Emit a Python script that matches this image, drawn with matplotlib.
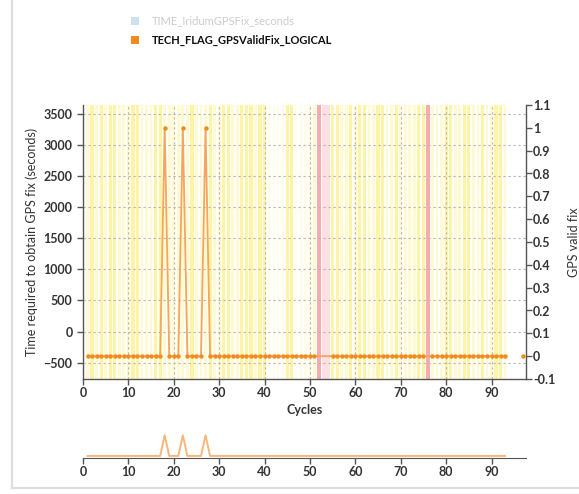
import numpy as np
import matplotlib
matplotlib.use("Agg")
import matplotlib.pyplot as plt
from matplotlib.lines import Line2D
from matplotlib.patches import Rectangle

# ---------------- data ----------------
cycles = list(range(1, 52)) + list(range(55, 76)) + list(range(77, 98))
flag_ones = [18, 22, 27]
flag_gaps = [94, 95, 96]
flags = [np.nan if c in flag_gaps else (1 if c in flag_ones else 0) for c in cycles]

missing_cycles_dark = [52, 76]
missing_cycles_light = [53, 54]
strong_yellow = [2, 4, 6, 7, 11, 12, 16, 17, 24, 28, 31, 32, 35, 36, 37, 39, 40, 45, 46,
                 55, 56, 59, 61, 62, 65, 66, 69, 74, 75, 80, 81, 84, 85, 88, 91, 92]
faint_cycles = [41, 42, 43, 44, 47, 48, 49]
pale_yellow = [c for c in range(1, 94) if c not in strong_yellow and c not in faint_cycles
               and c not in missing_cycles_dark + missing_cycles_light]

x_ticks = list(range(0, 100, 10))
left_ticks = list(range(-500, 4000, 500))
right_ticks = [round(-0.1 + 0.1 * i, 1) for i in range(13)]
right_tick_labels = ["-0.1", "0", "0.1", "0.2", "0.3", "0.4", "0.5", "0.6", "0.7", "0.8", "0.9", "1", "1.1"]

legend_labels = ["TIME_IridumGPSFix_seconds", "TECH_FLAG_GPSValidFix_LOGICAL"]

# ---------------- style ----------------
W, H = 579, 494
plt.rcParams['font.family'] = ['Lato', 'DejaVu Sans']
fig = plt.figure(figsize=(W / 100, H / 100), dpi=100)

def ax_rect(l, t, r, b):
    return [l / W, 1 - b / H, (r - l) / W, (b - t) / H]

orange = '#f28a1e'
line_orange = '#f6a55c'
txt = '#333333'
fs = 9

ax = fig.add_axes(ax_rect(83, 105, 526, 379))
ax2 = ax.twinx()

xmin, xmax = 0, 97.6
ax.set_xlim(xmin, xmax)
ax.set_ylim(-763, 3645)
ax2.set_ylim(-0.1, 1.1)

# bands (thin stripes per cycle)
for c in faint_cycles:
    ax.axvspan(c - 0.25, c + 0.25, color='#fffcea', lw=0, zorder=0)
for c in pale_yellow:
    ax.axvspan(c - 0.3, c + 0.3, color='#fffad2', lw=0, zorder=0)
for c in strong_yellow:
    ax.axvspan(c - 0.35, c + 0.35, color='#fff3a6', lw=0, zorder=0)
for c in missing_cycles_light:
    ax.axvspan(c - 0.45, c + 0.45, color='#fce0e3', lw=0, zorder=0)
for c in missing_cycles_dark:
    ax.axvspan(c - 0.35, c + 0.35, color='#f6abb1', lw=0, zorder=0)

# grid
ax.set_yticks(left_ticks)
ax.set_xticks(x_ticks)
ax.grid(True, color='#b5b5b5', linestyle=(0, (2, 2.5)), linewidth=0.8, zorder=1)
ax.set_axisbelow(True)

# data
ax2.plot(cycles, flags, color=line_orange, lw=1.3, zorder=3)
ax2.plot(cycles, flags, linestyle='none', marker='o', ms=3.2, color=orange,
         markeredgewidth=0, zorder=4)

# axes styling
for a in (ax, ax2):
    a.spines['top'].set_visible(False)
    for s in ('left', 'right', 'bottom'):
        a.spines[s].set_color('#555555')
        a.spines[s].set_linewidth(1.0)
ax.spines['right'].set_visible(False)
ax2.spines['left'].set_visible(False)
ax2.spines['bottom'].set_visible(False)

ax.tick_params(axis='both', colors='#555555', labelcolor=txt, labelsize=fs, length=4, width=1)
ax.tick_params(axis='x', pad=2)
ax2.set_yticks(right_ticks)
ax2.set_yticklabels(right_tick_labels)
ax2.tick_params(axis='y', colors='#555555', labelcolor=txt, labelsize=fs, length=4, width=1, pad=1)
for lab in ax.get_xticklabels() + ax.get_yticklabels() + ax2.get_yticklabels():
    lab.set_fontweight('bold')

ax.set_xlabel('Cycles', fontsize=fs, fontweight='bold', color=txt, labelpad=3)
ax.set_ylabel('Time required to obtain GPS fix (seconds)', fontsize=9, color=txt, labelpad=4)
ax2.set_ylabel('GPS valid fix', fontsize=9, color=txt, labelpad=9)

# navigator
nav = fig.add_axes(ax_rect(83, 428, 526, 458))
nav_c = [c for c, f in zip(cycles, flags) if c <= 93]
nav_f = [f for c, f in zip(cycles, flags) if c <= 93]
nav.plot(nav_c, nav_f, color='#f7b77a', lw=1.4)
nav.set_xlim(xmin, xmax)
nav.set_ylim(-0.1, 1.35)
nav.set_yticks([])
nav.set_xticks(x_ticks)
for s in ('top', 'left', 'right'):
    nav.spines[s].set_visible(False)
nav.spines['bottom'].set_color('#555555')
nav.tick_params(axis='x', colors='#555555', labelcolor=txt, labelsize=fs, length=4, width=1, pad=2)
for lab in nav.get_xticklabels():
    lab.set_fontweight('bold')
nav.patch.set_alpha(0)

# legend (first series hidden/greyed)
fig.patches.append(Rectangle((131 / W, 1 - 25 / H), 8 / W, 8 / H, transform=fig.transFigure,
                             color='#cfe0ee', lw=0))
fig.text(152 / W, 1 - 21 / H, legend_labels[0], fontsize=8, color='#cccccc', va='center')
fig.patches.append(Rectangle((131 / W, 1 - 44 / H), 8 / W, 8 / H, transform=fig.transFigure,
                             color=orange, lw=0))
fig.text(152 / W, 1 - 40 / H, legend_labels[1], fontsize=8, color='#111111', va='center',
         fontweight='bold')

# outer frame lines
fig.add_artist(Line2D([12 / W, 12 / W], [1 - 488 / H, 1.0], transform=fig.transFigure,
                      color='#dddddd', lw=1.5))
fig.add_artist(Line2D([12 / W, 1.0], [1 - 488 / H, 1 - 488 / H], transform=fig.transFigure,
                      color='#dddddd', lw=1.5))

fig.savefig('out.png', dpi=100)
